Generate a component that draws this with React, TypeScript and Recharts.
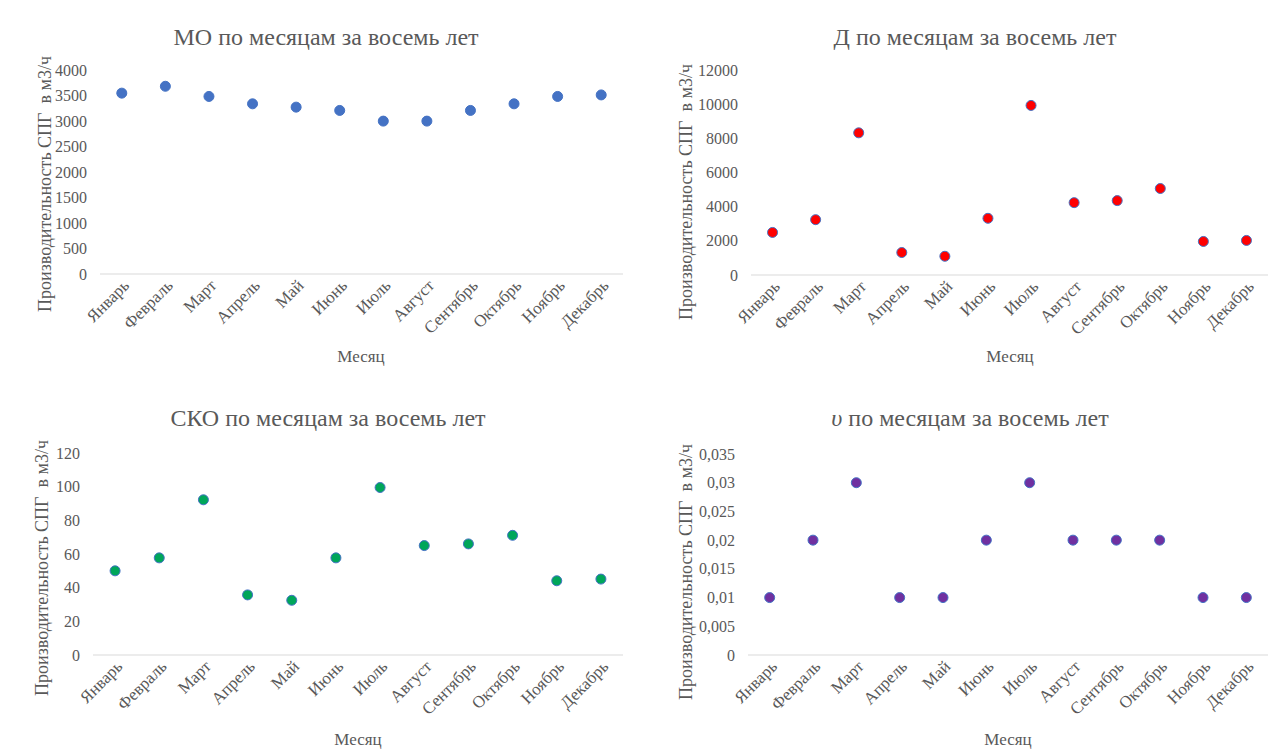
import React from 'react';
import { ScatterChart, Scatter, XAxis, YAxis } from 'recharts';

const months = ['Январь', 'Февраль', 'Март', 'Апрель', 'Май', 'Июнь', 'Июль', 'Август', 'Сентябрь', 'Октябрь', 'Ноябрь', 'Декабрь'];

const moValues = [3555, 3690, 3490, 3345, 3280, 3215, 3005, 3005, 3215, 3345, 3490, 3520];
const dValues = [2500, 3250, 8350, 1320, 1100, 3330, 9960, 4250, 4370, 5080, 1970, 2030];
const skoValues = [50, 57.7, 92.2, 35.7, 32.5, 57.7, 99.5, 65, 66, 71.1, 44.1, 45.1];
const nuValues = [0.01, 0.02, 0.03, 0.01, 0.01, 0.02, 0.03, 0.02, 0.02, 0.02, 0.01, 0.01];

const moTicks = [0, 500, 1000, 1500, 2000, 2500, 3000, 3500, 4000];
const dTicks = [0, 2000, 4000, 6000, 8000, 10000, 12000];
const skoTicks = [0, 20, 40, 60, 80, 100, 120];
const nuTicks = [0, 0.005, 0.01, 0.015, 0.02, 0.025, 0.03, 0.035];

const monthIdx = months.map((_, i) => i + 1);

const FONT = '"Liberation Serif", "DejaVu Serif", "Times New Roman", serif';
const TEXT = '#595959';

type PanelProps = {
  left: number; top: number; width: number; height: number;
  x0: number; x1: number; y0: number; y1: number;
  title: React.ReactNode; titleX: number; titleY: number;
  ylX: number; ylY: number; xlX: number; xlY: number;
  values: number[]; ticks: number[];
  fill: string; stroke: string;
  fmt?: (v: number) => string;
};

const XTick = (props: any) => {
  const { x, y, payload } = props;
  return (
    <g transform={`translate(${x},${y})`}>
      <text transform="rotate(-45)" x={0} y={0} dy={12} textAnchor="end" fill={TEXT} fontSize={17} fontFamily={FONT} style={{ fontFamily: FONT }}>
        {months[payload.value - 1]}
      </text>
    </g>
  );
};

function Panel(p: PanelProps) {
  const data = months.map((m, i) => ({ x: i + 1, y: p.values[i], m }));
  const max = p.ticks[p.ticks.length - 1];
  const shape = (props: any) => (
    <circle cx={props.cx} cy={props.cy} r={5} fill={p.fill} stroke={p.stroke} strokeWidth={1} />
  );
  const YTick = (props: any) => {
    const { x, y, payload } = props;
    const label = p.fmt ? p.fmt(payload.value) : String(payload.value);
    return (
      <text x={x} y={y} dy={5.5} textAnchor="end" fill={TEXT} fontSize={16} fontFamily={FONT} style={{ fontFamily: FONT }}>
        {label}
      </text>
    );
  };
  return (
    <div style={{ position: 'absolute', left: p.left, top: p.top, width: p.width, height: p.height, fontFamily: FONT }}>
      <ScatterChart
        width={p.width}
        height={p.height}
        margin={{ top: p.y0, right: p.width - p.x1, left: 0, bottom: 0 }}
        style={{ fontFamily: FONT }}
      >
        <XAxis
          type="number"
          dataKey="x"
          domain={[0.5, 12.5]}
          ticks={monthIdx}
          interval={0}
          height={p.height - p.y1}
          axisLine={{ stroke: '#D9D9D9', strokeWidth: 1 }}
          tickLine={false}
          tickSize={0}
          tickMargin={4}
          tick={<XTick />}
        />
        <YAxis
          type="number"
          dataKey="y"
          domain={[0, max]}
          ticks={p.ticks}
          interval={0}
          width={p.x0}
          axisLine={false}
          tickLine={false}
          tickSize={0}
          tickMargin={13}
          tick={<YTick />}
        />
        <Scatter data={data} isAnimationActive={false} shape={shape} />
      </ScatterChart>
      <div style={{ position: 'absolute', left: p.titleX, top: p.titleY, transform: 'translate(-50%, -50%)', whiteSpace: 'nowrap', fontFamily: FONT, fontSize: 24, color: TEXT }}>
        {p.title}
      </div>
      <div style={{ position: 'absolute', left: p.ylX, top: p.ylY, transform: 'translate(-50%, -50%) rotate(-90deg)', whiteSpace: 'nowrap', fontFamily: FONT, fontSize: 18, color: TEXT }}>
        Производительность СПГ&nbsp; в м3/ч
      </div>
      <div style={{ position: 'absolute', left: p.xlX, top: p.xlY, transform: 'translate(-50%, -50%)', whiteSpace: 'nowrap', fontFamily: FONT, fontSize: 17, color: TEXT }}>
        Месяц
      </div>
    </div>
  );
}

const commaFmt = (v: number) => String(v).replace('.', ',');

export default function App() {
  return (
    <div style={{ position: 'absolute', left: 0, top: 0, width: 1287, height: 751, background: '#fff', overflow: 'hidden' }}>
      <Panel
        left={0} top={0} width={640} height={380}
        x0={100} x1={623} y0={70.5} y1={274}
        title="МО по месяцам за восемь лет" titleX={326} titleY={37}
        ylX={45} ylY={184} xlX={361} xlY={357}
        values={moValues} ticks={moTicks} fill="#4472C4" stroke="#4472C4"
      />
      <Panel
        left={640} top={0} width={647} height={380}
        x0={111} x1={628} y0={70.7} y1={275}
        title="Д по месяцам за восемь лет" titleX={335} titleY={37}
        ylX={46} ylY={192} xlX={370} xlY={357}
        values={dValues} ticks={dTicks} fill="#FF0000" stroke="#4472C4"
      />
      <Panel
        left={0} top={380} width={640} height={371}
        x0={93} x1={623} y0={73} y1={275}
        title="СКО по месяцам за восемь лет" titleX={328} titleY={38}
        ylX={42} ylY={188} xlX={358} xlY={360}
        values={skoValues} ticks={skoTicks} fill="#00A65A" stroke="#4472C4"
      />
      <Panel
        left={640} top={380} width={647} height={371}
        x0={108} x1={628} y0={74} y1={275}
        title={<span><i>υ</i> по месяцам за восемь лет</span>} titleX={330} titleY={38}
        ylX={46} ylY={192} xlX={368} xlY={360}
        values={nuValues} ticks={nuTicks} fill="#7030A0" stroke="#4472C4" fmt={commaFmt}
      />
    </div>
  );
}
